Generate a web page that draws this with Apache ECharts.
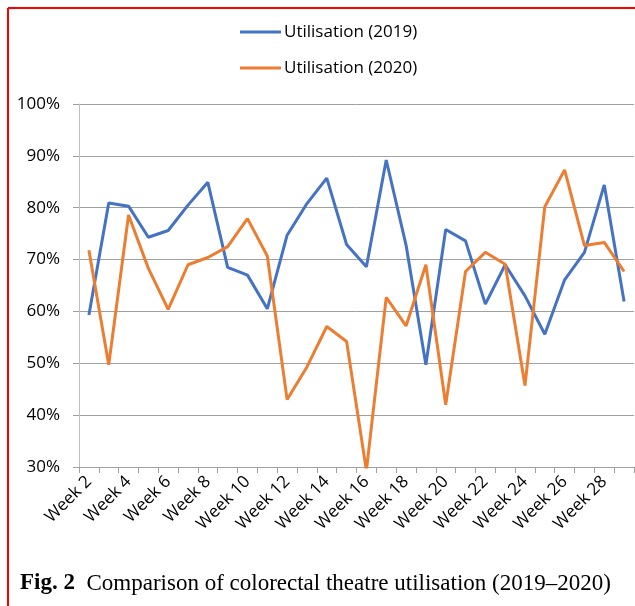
<!DOCTYPE html>
<html>
<head>
<meta charset="utf-8">
<script src="https://cdn.jsdelivr.net/npm/echarts@6/dist/echarts.min.js"></script>
<style>
  html, body { margin: 0; padding: 0; background: #fff; }
  #chart { width: 635px; height: 606px; }
</style>
</head>
<body>
<div id="chart"></div>
<script>
  // weeks 2..29
  const weeks = []
  for (let w = 2; w <= 29; w++) weeks.push('Week ' + w)

  const util2019 = [59.3, 80.9, 80.3, 74.3, 75.6, 80.5, 84.9, 68.5, 67.0, 60.5,
    74.7, 80.8, 85.7, 72.9, 68.6, 89.2, 72.8, 49.7, 75.8, 73.6,
    61.4, 69.0, 63.0, 55.6, 66.1, 71.4, 84.4, 61.9]
  const util2020 = [71.8, 49.7, 78.6, 68.3, 60.4, 69.0, 70.4, 72.5, 77.9, 70.7,
    43.0, 49.3, 57.1, 54.2, 29.3, 62.7, 57.2, 69.0, 42.0, 67.7,
    71.4, 69.1, 45.7, 80.2, 87.3, 72.7, 73.3, 67.7]

  const yTicks = { min: 30, max: 100, step: 10 }

  const chart = echarts.init(document.getElementById('chart'))
  const axisGray = '#a0a0a0'
  const font = 'Open Sans'

  function lineSeries(name, data, color) {
    return {
      name,
      type: 'line',
      data,
      symbol: 'none',
      clip: true,
      lineStyle: { color, width: 3 },
      itemStyle: { color }
    }
  }

  chart.setOption({
    animation: false,
    grid: { left: 79, right: 1, top: 104, bottom: 139 },
    legend: {
      orient: 'vertical',
      left: 240,
      top: 22,
      padding: 0,
      icon: 'rect',
      itemWidth: 41,
      itemHeight: 3,
      itemGap: 16,
      textStyle: { fontFamily: font, fontSize: 17, color: '#000', lineHeight: 20, padding: [0, 0, 0, -2] },
      data: ['Utilisation (2019)', 'Utilisation (2020)']
    },
    xAxis: {
      type: 'category',
      data: weeks,
      boundaryGap: true,
      axisLine: { lineStyle: { color: axisGray, width: 1 } },
      axisTick: { show: true, length: 6, interval: 0, lineStyle: { color: axisGray } },
      axisLabel: {
        interval: 1,
        rotate: 45,
        margin: 12,
        fontFamily: font,
        fontSize: 17,
        color: '#000'
      }
    },
    yAxis: {
      type: 'value',
      min: yTicks.min,
      max: yTicks.max,
      interval: yTicks.step,
      axisLine: { show: true, lineStyle: { color: '#bfbfbf', width: 1 } },
      axisTick: { show: true, length: 6, lineStyle: { color: axisGray } },
      splitLine: { lineStyle: { color: axisGray, width: 1 } },
      axisLabel: {
        formatter: '{value}%',
        margin: 19,
        fontFamily: font,
        fontSize: 17,
        color: '#000'
      }
    },
    series: [
      lineSeries('Utilisation (2019)', util2019, '#4472c4'),
      lineSeries('Utilisation (2020)', util2020, '#ed7d31')
    ],
    graphic: [
      // red frame (left and top edges only, rest is cropped)
      { type: 'line', shape: { x1: 8, y1: 8, x2: 635, y2: 8 }, style: { stroke: '#ff0000', lineWidth: 2 } },
      { type: 'line', shape: { x1: 8, y1: 8, x2: 8, y2: 606 }, style: { stroke: '#ff0000', lineWidth: 2 } },
      {
        type: 'text',
        left: 20,
        top: 572,
        style: {
          text: '{b|Fig. 2}  Comparison of colorectal theatre utilisation (2019–2020)',
          fontFamily: 'Liberation Serif',
          fontSize: 23,
          fill: '#000',
          rich: {
            b: { fontFamily: 'Liberation Serif', fontSize: 23, fontWeight: 'bold', fill: '#000' }
          }
        }
      }
    ]
  })
</script>
</body>
</html>
